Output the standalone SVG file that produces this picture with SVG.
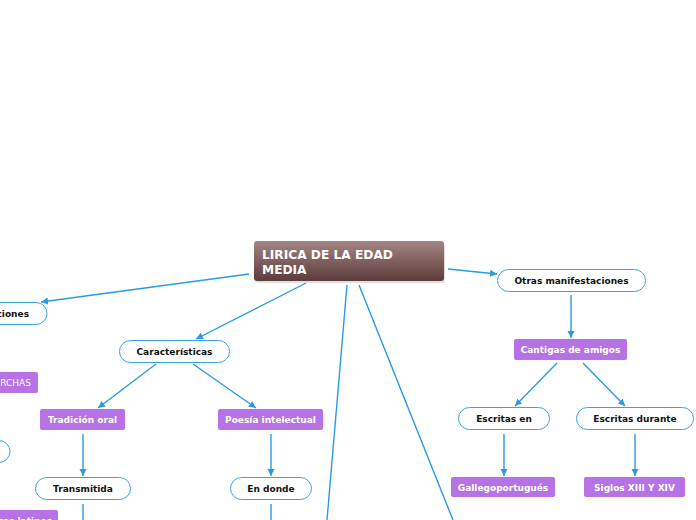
<svg xmlns="http://www.w3.org/2000/svg" width="696" height="520" viewBox="0 0 696 520">
<style>
.c{stroke:#2b9be0;stroke-width:1.4;fill:none}
.o{fill:#fff;stroke:#3aa3e6;stroke-width:1}
.p{fill:#b772e6}
.t{font-family:"DejaVu Sans",Verdana,sans-serif;font-weight:bold;font-size:9px;fill:#111;text-anchor:middle}
.w{fill:#fff}
</style>
<defs>
<linearGradient id="g" x1="0" y1="0" x2="0" y2="1">
<stop offset="0" stop-color="#a38583"/>
<stop offset="1" stop-color="#5c3c3c"/>
</linearGradient>
<marker id="a" markerWidth="8" markerHeight="8" refX="7" refY="4" orient="auto" markerUnits="userSpaceOnUse">
<path d="M0,0.5 L7,4 L0,7.5 Z" fill="#2b9be0"/>
</marker>
</defs>
<rect width="696" height="520" fill="#fff"/>
<g id="connectors">
<path class="c" d="M249,274 L41,302" marker-end="url(#a)"/>
<path class="c" d="M306,283 L196,339" marker-end="url(#a)"/>
<path class="c" d="M448,269 L497,274" marker-end="url(#a)"/>
<path class="c" d="M347,285 L327,520"/>
<path class="c" d="M359,285 L453,520"/>
<path class="c" d="M571,295 L571,338" marker-end="url(#a)"/>
<path class="c" d="M557,363 L515,406" marker-end="url(#a)"/>
<path class="c" d="M583,363 L625,406" marker-end="url(#a)"/>
<path class="c" d="M504,434 L504,476" marker-end="url(#a)"/>
<path class="c" d="M635,434 L635,476" marker-end="url(#a)"/>
<path class="c" d="M156,364 L98,408" marker-end="url(#a)"/>
<path class="c" d="M193,364 L256,408" marker-end="url(#a)"/>
<path class="c" d="M83,434 L83,476" marker-end="url(#a)"/>
<path class="c" d="M271,434 L271,476" marker-end="url(#a)"/>
<path class="c" d="M83,504 L83,520"/>
<path class="c" d="M271,504 L271,520"/>
</g>
<g id="root">
<rect x="255" y="243" width="190" height="40" rx="3" fill="#000" opacity="0.12"/>
<rect x="254" y="241" width="190" height="40" rx="3" fill="url(#g)"/>
<text x="262" y="259" font-family="DejaVu Sans,Verdana,sans-serif" font-weight="bold" font-size="12.2" fill="#fff">LIRICA DE LA EDAD</text>
<text x="262" y="274" font-family="DejaVu Sans,Verdana,sans-serif" font-weight="bold" font-size="12.2" fill="#fff">MEDIA</text>
</g>
<g id="n-ciones">
<rect class="o" x="-60" y="302.5" width="107" height="22" rx="11"/>
<text class="t" x="29" y="317" style="text-anchor:end">ciones</text>
</g>
<g id="n-caracteristicas">
<rect class="o" x="119.5" y="340.5" width="110" height="22" rx="11"/>
<text class="t" x="174.5" y="355">Características</text>
</g>
<g id="n-otras">
<rect class="o" x="497.5" y="269.5" width="148" height="22" rx="11"/>
<text class="t" x="571.5" y="284">Otras manifestaciones</text>
</g>
<g id="n-cantigas">
<rect class="p" x="514" y="339" width="113" height="21" rx="2"/>
<text class="t w" x="570.5" y="353">Cantigas de amigos</text>
</g>
<g id="n-escritas-en">
<rect class="o" x="458.5" y="407.5" width="91" height="22" rx="11"/>
<text class="t" x="504" y="422">Escritas en</text>
</g>
<g id="n-escritas-durante">
<rect class="o" x="576.5" y="407.5" width="117" height="22" rx="11"/>
<text class="t" x="635" y="422">Escritas durante</text>
</g>
<g id="n-gallego">
<rect class="p" x="451" y="477" width="104" height="20" rx="2"/>
<text class="t w" x="503" y="491">Gallegoportugués</text>
</g>
<g id="n-siglos">
<rect class="p" x="584" y="477" width="101" height="20" rx="2"/>
<text class="t w" x="634.5" y="491">Siglos XIII Y XIV</text>
</g>
<g id="n-tradicion">
<rect class="p" x="40" y="409" width="85" height="21" rx="2"/>
<text class="t w" x="82.5" y="423">Tradición oral</text>
</g>
<g id="n-poesia">
<rect class="p" x="218" y="409" width="105" height="21" rx="2"/>
<text class="t w" x="270.5" y="423">Poesía intelectual</text>
</g>
<g id="n-transmitida">
<rect class="o" x="35.5" y="477.5" width="95" height="22" rx="11"/>
<text class="t" x="83" y="492">Transmitida</text>
</g>
<g id="n-endonde">
<rect class="o" x="230.5" y="477.5" width="81" height="22" rx="11"/>
<text class="t" x="271" y="492">En donde</text>
</g>
<g id="n-jarchas">
<rect class="p" x="-40" y="372" width="78" height="21" rx="2"/>
<text x="31" y="386" text-anchor="end" font-family="DejaVu Sans,Verdana,sans-serif" font-size="9" fill="#fff">RCHAS</text>
</g>
<g id="n-left-pill">
<rect class="o" x="-80" y="440.5" width="90" height="22" rx="11"/>
</g>
<g id="n-latinos">
<rect class="p" x="-40" y="510" width="98" height="21" rx="2"/>
<text class="t w" x="52" y="524" style="text-anchor:end">ros latinos</text>
</g>
</svg>
